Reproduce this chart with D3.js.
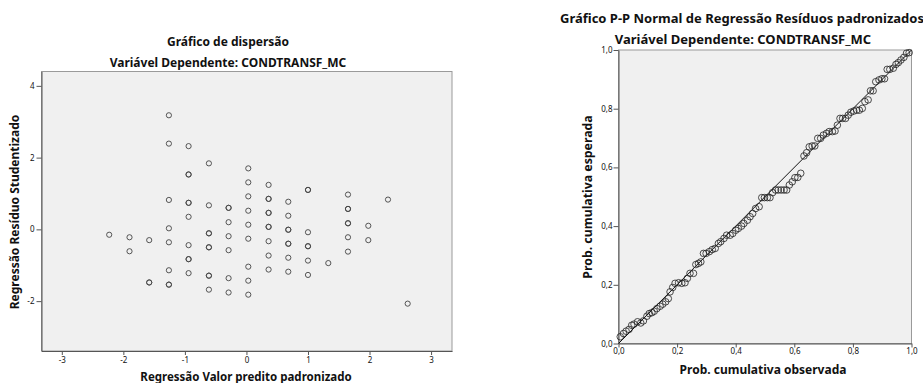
<!DOCTYPE html>
<html>
<head>
<meta charset="utf-8">
<script src="https://cdn.jsdelivr.net/npm/d3@7"></script>
<style>
  body { margin: 0; background: #fff; }
  text { font-family: "Noto Sans", sans-serif; fill: #111; }
</style>
</head>
<body>
<div id="chart"></div>
<script>
// dispersão: valor predito padronizado x resíduo studentizado
const predito = [
  -2.23,
  -1.90, -1.90,
  -1.58, -1.58, -1.58,
  -1.26, -1.26, -1.26, -1.26, -1.26, -1.26, -1.26, -1.26,
  -0.94, -0.94, -0.94, -0.94, -0.94, -0.94, -0.94, -0.94, -0.94, -0.94,
  -0.61, -0.61, -0.61, -0.61, -0.61, -0.61, -0.61, -0.61, -0.61,
  -0.29, -0.29, -0.29, -0.29, -0.29, -0.29, -0.29,
  0.03, 0.03, 0.03, 0.03, 0.03, 0.03, 0.03, 0.03, 0.03,
  0.36, 0.36, 0.36, 0.36, 0.36, 0.36, 0.36, 0.36, 0.36, 0.36,
  0.68, 0.68, 0.68, 0.68, 0.68, 0.68, 0.68, 0.68,
  1.00, 1.00, 1.00, 1.00, 1.00, 1.00, 1.00,
  1.33,
  1.65, 1.65, 1.65, 1.65, 1.65, 1.65, 1.65,
  1.98, 1.98,
  2.30,
  2.62
];
const residuo = [
  -0.15,
  -0.22, -0.61,
  -0.30, -1.48, -1.48,
  3.18, 2.39, 0.82, 0.03, -0.36, -1.14, -1.54, -1.54,
  2.32, 1.53, 1.53, 0.74, 0.74, 0.35, -0.44, -0.83, -0.83, -1.22,
  1.84, 0.67, -0.11, -0.11, -0.50, -0.50, -1.29, -1.29, -1.68,
  0.60, 0.60, 0.20, -0.19, -0.58, -1.36, -1.76,
  1.70, 1.31, 0.92, 0.52, 0.13, -0.26, -1.04, -1.43, -1.82,
  1.24, 0.85, 0.85, 0.46, 0.46, 0.07, 0.07, -0.33, -0.73, -1.12,
  0.77, 0.38, -0.01, -0.01, -0.40, -0.40, -0.79, -1.18,
  1.10, 1.10, -0.08, -0.47, -0.47, -0.87, -1.27,
  -0.94,
  0.97, 0.57, 0.57, 0.17, 0.17, -0.22, -0.62,
  0.10, -0.30,
  0.83,
  -2.07
];

// P-P normal: probabilidade cumulativa observada x esperada
const probObservada = [
  0.006, 0.017, 0.026, 0.036, 0.045, 0.053, 0.065, 0.076, 0.085, 0.097,
  0.105, 0.114, 0.122, 0.131, 0.142, 0.151, 0.161, 0.170, 0.176, 0.185,
  0.193, 0.205, 0.216, 0.227, 0.235, 0.244, 0.256, 0.264, 0.273, 0.281,
  0.290, 0.299, 0.310, 0.320, 0.330, 0.341, 0.349, 0.360, 0.369, 0.381,
  0.390, 0.400, 0.409, 0.420, 0.428, 0.440, 0.449, 0.458, 0.468, 0.480,
  0.489, 0.498, 0.508, 0.517, 0.526, 0.536, 0.545, 0.555, 0.565, 0.574,
  0.583, 0.593, 0.602, 0.612, 0.622, 0.633, 0.642, 0.651, 0.661, 0.670,
  0.680, 0.690, 0.699, 0.710, 0.719, 0.730, 0.739, 0.747, 0.756, 0.765,
  0.775, 0.784, 0.793, 0.803, 0.813, 0.822, 0.832, 0.841, 0.852, 0.860,
  0.869, 0.878, 0.889, 0.899, 0.908, 0.917, 0.926, 0.938, 0.947, 0.955,
  0.964, 0.974, 0.983, 0.992
];
const probEsperada = [
  0.023, 0.034, 0.042, 0.048, 0.062, 0.066, 0.074, 0.070, 0.077, 0.093,
  0.102, 0.105, 0.110, 0.119, 0.127, 0.134, 0.142, 0.153, 0.176, 0.191,
  0.205, 0.207, 0.205, 0.207, 0.222, 0.239, 0.239, 0.269, 0.273, 0.278,
  0.307, 0.307, 0.313, 0.320, 0.324, 0.341, 0.347, 0.358, 0.369, 0.369,
  0.375, 0.386, 0.392, 0.400, 0.409, 0.420, 0.432, 0.443, 0.460, 0.466,
  0.497, 0.497, 0.497, 0.497, 0.514, 0.523, 0.523, 0.523, 0.523, 0.523,
  0.540, 0.551, 0.565, 0.566, 0.580, 0.639, 0.650, 0.670, 0.673, 0.673,
  0.699, 0.699, 0.710, 0.716, 0.722, 0.722, 0.724, 0.744, 0.767, 0.767,
  0.767, 0.778, 0.788, 0.792, 0.795, 0.795, 0.801, 0.824, 0.830, 0.861,
  0.861, 0.892, 0.898, 0.902, 0.902, 0.934, 0.934, 0.938, 0.951, 0.957,
  0.966, 0.975, 0.989, 0.991
];

const xTicksDisp = [-3, -2, -1, 0, 1, 2, 3];
const yTicksDisp = [-2, 0, 2, 4];
const ticksPP = [0, 0.2, 0.4, 0.6, 0.8, 1.0];

const width = 923, height = 383;
const ptBR = d3.formatLocale({ decimal: ",", thousands: ".", grouping: [3], currency: ["R$", ""], minus: "-" });
const fmtInt = ptBR.format("d");
const fmtDec = ptBR.format(".1f");

const svg = d3.select('#chart')
  .append('svg')
  .attr('width', width)
  .attr('height', height);

// caixa de plotagem com fundo cinza e eixos
const drawFrame = (g, w, h) => {
  g.append('rect')
    .attr('width', w)
    .attr('height', h)
    .attr('fill', '#f0f0f0')
    .attr('stroke', '#9a9a9a')
    .attr('stroke-width', 1);
};

const styleAxis = (sel) => {
  sel.select('.domain').attr('stroke', '#555');
  sel.selectAll('.tick line').attr('stroke', '#555');
  sel.selectAll('.tick text')
    .style('font-family', '"Noto Sans", sans-serif')
    .attr('fill', '#222')
    .style('font-size', '8px');
};

const label = (x, y, txt, size, rotate) => {
  svg.append('text')
    .attr('transform', rotate ? `translate(${x},${y}) rotate(-90)` : `translate(${x},${y})`)
    .attr('text-anchor', 'middle')
    .style('font-size', size + 'px')
    .style('font-weight', 'bold')
    .text(txt);
};

// ---------- gráfico de dispersão ----------
const m1 = { left: 41.5, top: 71.5, w: 410.5, h: 279.5 };
const g1 = svg.append('g').attr('transform', `translate(${m1.left},${m1.top})`);

const x1 = d3.scaleLinear().domain([-3.33, 3.34]).range([0, m1.w]);
const y1 = d3.scaleLinear().domain([-3.39, 4.4]).range([m1.h, 0]);

drawFrame(g1, m1.w, m1.h);

g1.append('g')
  .attr('transform', `translate(0,${m1.h})`)
  .call(d3.axisBottom(x1).tickValues(xTicksDisp).tickFormat(fmtInt).tickSize(4).tickSizeOuter(0).tickPadding(2))
  .call(styleAxis);

g1.append('g')
  .call(d3.axisLeft(y1).tickValues(yTicksDisp).tickFormat(fmtInt).tickSize(5).tickSizeOuter(0).tickPadding(2))
  .call(styleAxis);

g1.selectAll('.ponto')
  .data(predito.map((p, i) => ({ p, r: residuo[i] })))
  .enter()
  .append('circle')
  .attr('class', 'ponto')
  .attr('cx', d => x1(d.p))
  .attr('cy', d => y1(d.r))
  .attr('r', 2.6)
  .attr('fill', 'none')
  .attr('stroke', '#444')
  .attr('stroke-width', 0.9);

label(228, 46, 'Gráfico de dispersão', 12);
label(228, 66.5, 'Variável Dependente: CONDTRANSF_MC', 12);
label(246, 381, 'Regressão Valor predito padronizado', 11.5);
label(19, 212, 'Regressão Resíduo Studentizado', 12, true);

// ---------- gráfico P-P ----------
const m2 = { left: 618.5, top: 50, w: 293, h: 293.5 };
const g2 = svg.append('g').attr('transform', `translate(${m2.left},${m2.top})`);

const x2 = d3.scaleLinear().domain([0, 1]).range([0, m2.w]);
const y2 = d3.scaleLinear().domain([0, 1]).range([m2.h, 0]);

drawFrame(g2, m2.w, m2.h);

g2.append('g')
  .attr('transform', `translate(0,${m2.h})`)
  .call(d3.axisBottom(x2).tickValues(ticksPP).tickFormat(fmtDec).tickSize(4).tickSizeOuter(0).tickPadding(1))
  .call(styleAxis);

g2.append('g')
  .call(d3.axisLeft(y2).tickValues(ticksPP).tickFormat(fmtDec).tickSize(5).tickSizeOuter(0).tickPadding(1))
  .call(styleAxis);

// linha de referência
g2.append('line')
  .attr('x1', x2(0)).attr('y1', y2(0))
  .attr('x2', x2(1)).attr('y2', y2(1))
  .attr('stroke', '#111')
  .attr('stroke-width', 1);

g2.selectAll('.pp')
  .data(probObservada.map((o, i) => ({ o, e: probEsperada[i] })))
  .enter()
  .append('circle')
  .attr('class', 'pp')
  .attr('cx', d => x2(d.o))
  .attr('cy', d => y2(d.e))
  .attr('r', 3.3)
  .attr('fill', 'none')
  .attr('stroke', '#222')
  .attr('stroke-width', 0.8);

label(742, 23, 'Gráfico P-P Normal de Regressão Resíduos padronizados', 13);
label(743, 44, 'Variável Dependente: CONDTRANSF_MC', 13);
label(763, 374, 'Prob. cumulativa observada', 12);
label(592, 197, 'Prob. cumulativa esperada', 12.3, true);
</script>
</body>
</html>
